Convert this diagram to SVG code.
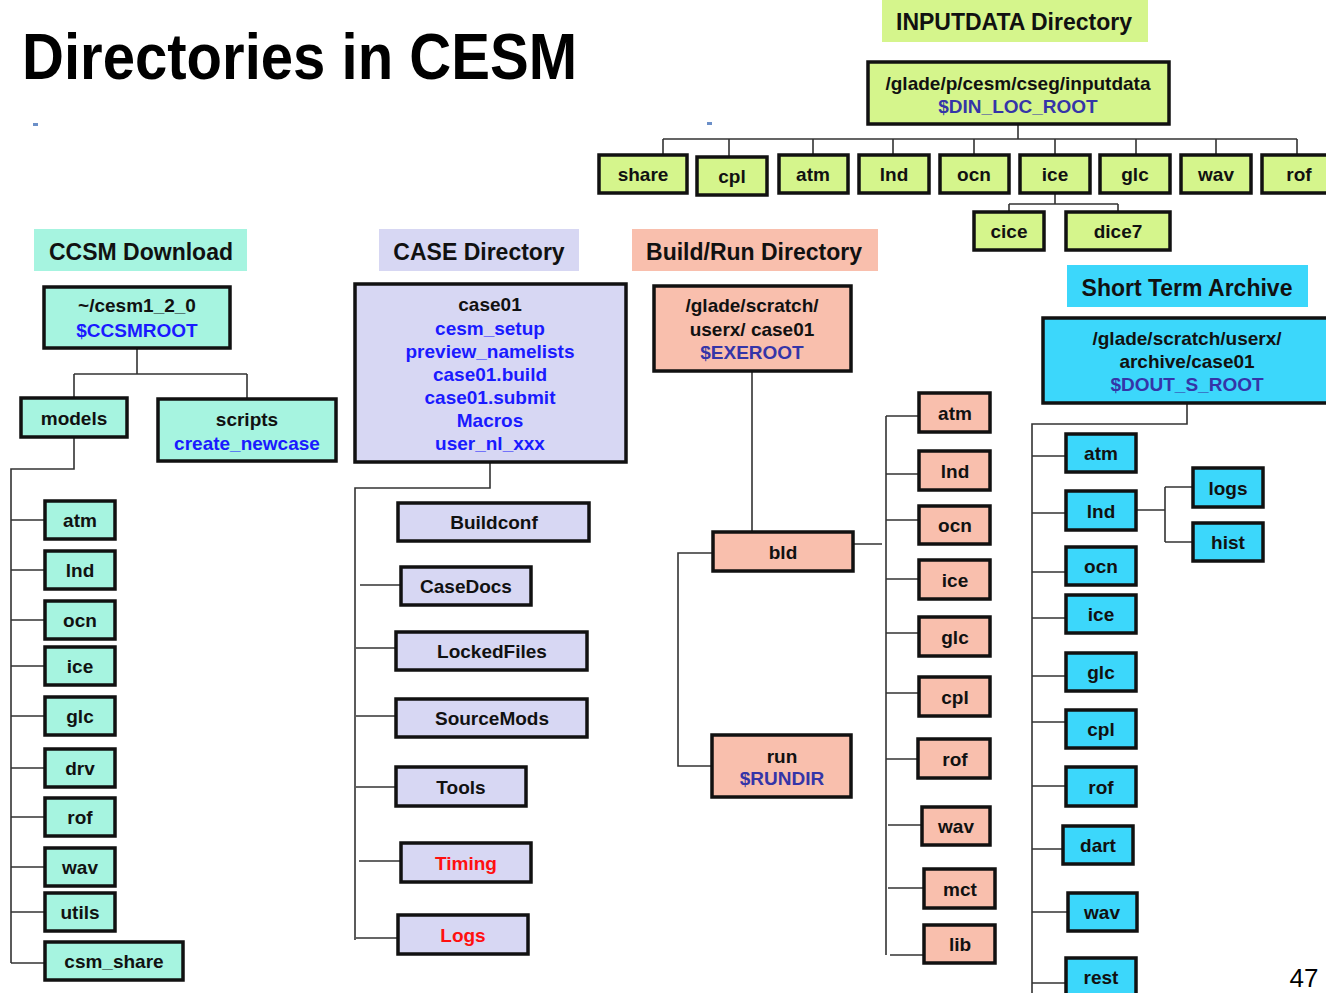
<svg xmlns="http://www.w3.org/2000/svg" width="1326" height="993" viewBox="0 0 1326 993">
<style>
text{font-family:"Liberation Sans",Arial,sans-serif;font-weight:bold;font-size:19px;text-anchor:middle;fill:#111}
.h{font-size:23px}
.bl{fill:#1a1aff}
.pu{fill:#3535a8}
.rd{fill:#ff1010}
rect.n{stroke:#111;stroke-width:3.5}
.g{fill:#d5f58c}
.m{fill:#a6f4e0}
.l{fill:#d7d7f3}
.s{fill:#f9bfad}
.c{fill:#3cd7fb}
#connectors path{fill:none;stroke:#333;stroke-width:1.6}
</style>
<rect width="1326" height="993" fill="#fff"/>
<text x="22" y="79" textLength="555" lengthAdjust="spacingAndGlyphs" style="font-size:64px;text-anchor:start;fill:#000">Directories in CESM</text>
<rect x="33" y="123" width="5" height="3" fill="#6b8fc8"/>
<rect x="707" y="122" width="5" height="3" fill="#6b8fc8"/>

<g id="connectors">
<path d="M1018 124V139M663 139H1297M663 139V155M729 139V157M813 139V155M893 139V155M974 139V155M1055 139V155M1136 139V155M1216 139V155M1297 139V155"/>
<path d="M1055 193V204M1009 204H1118M1009 204V212M1118 204V212"/>
<path d="M137 348V374M74 374H247M74 374V398M247 374V399"/>
<path d="M74 437V469H11V963M11 520H45M11 570H45M11 620H45M11 666H45M11 716H45M11 768H45M11 817H45M11 867H45M11 912H45M11 963H45"/>
<path d="M490 462V488H355V940M360 585H401M356 648H396M356 716H396M356 787H396M359 861H401M356 938H398"/>
<path d="M752 371V532M713 553H678V766H712M848 544H882M886 416V955M886 416H919M886 474H919M886 520H919M886 579H919M886 633H919M886 693H919M886 759H918M888 825H922M888 888H924M890 955H924"/>
<path d="M1187 403V424H1032V993M1032 456H1066M1032 513H1066M1032 572H1066M1032 618H1066M1032 676H1066M1032 722H1066M1032 786H1066M1032 849H1062M1032 912H1067M1032 983H1066"/>
<path d="M1136 510H1165M1165 487V542M1165 487H1193M1165 542H1193"/>
</g>

<g id="inputdata-label"><rect x="882" y="0" width="266" height="42" class="g"/><text class="h" x="1014" y="30">INPUTDATA Directory</text></g>
<g id="inputdata-root"><rect class="n g" x="868" y="62" width="301" height="62"/><text x="1018" y="90">/glade/p/cesm/cseg/inputdata</text><text class="pu" x="1018" y="113">$DIN_LOC_ROOT</text></g>
<g id="in-share"><rect class="n g" x="599" y="155" width="88" height="38"/><text x="643" y="181">share</text></g>
<g id="in-cpl"><rect class="n g" x="697" y="157" width="70" height="38"/><text x="732" y="183">cpl</text></g>
<g id="in-atm"><rect class="n g" x="779" y="155" width="69" height="38"/><text x="813" y="181">atm</text></g>
<g id="in-lnd"><rect class="n g" x="859" y="155" width="70" height="38"/><text x="894" y="181">lnd</text></g>
<g id="in-ocn"><rect class="n g" x="940" y="155" width="69" height="38"/><text x="974" y="181">ocn</text></g>
<g id="in-ice"><rect class="n g" x="1020" y="155" width="70" height="38"/><text x="1055" y="181">ice</text></g>
<g id="in-glc"><rect class="n g" x="1100" y="155" width="70" height="38"/><text x="1135" y="181">glc</text></g>
<g id="in-wav"><rect class="n g" x="1181" y="155" width="70" height="38"/><text x="1216" y="181">wav</text></g>
<g id="in-rof"><rect class="n g" x="1262" y="155" width="70" height="38"/><text x="1299" y="181">rof</text></g>
<g id="in-cice"><rect class="n g" x="974" y="212" width="70" height="38"/><text x="1009" y="238">cice</text></g>
<g id="in-dice7"><rect class="n g" x="1066" y="212" width="104" height="38"/><text x="1118" y="238">dice7</text></g>

<g id="ccsm-label"><rect x="34" y="229" width="213" height="42" class="m"/><text class="h" x="141" y="260">CCSM Download</text></g>
<g id="ccsm-root"><rect class="n m" x="44" y="287" width="186" height="61"/><text x="137" y="312">~/cesm1_2_0</text><text class="bl" x="137" y="337">$CCSMROOT</text></g>
<g id="ccsm-models"><rect class="n m" x="21" y="398" width="106" height="39"/><text x="74" y="425">models</text></g>
<g id="ccsm-scripts"><rect class="n m" x="158" y="399" width="178" height="62"/><text x="247" y="426">scripts</text><text class="bl" x="247" y="450">create_newcase</text></g>
<g id="cc-atm"><rect class="n m" x="45" y="501" width="70" height="38"/><text x="80" y="527">atm</text></g>
<g id="cc-lnd"><rect class="n m" x="45" y="551" width="70" height="38"/><text x="80" y="577">lnd</text></g>
<g id="cc-ocn"><rect class="n m" x="45" y="601" width="70" height="38"/><text x="80" y="627">ocn</text></g>
<g id="cc-ice"><rect class="n m" x="45" y="647" width="70" height="38"/><text x="80" y="673">ice</text></g>
<g id="cc-glc"><rect class="n m" x="45" y="697" width="70" height="38"/><text x="80" y="723">glc</text></g>
<g id="cc-drv"><rect class="n m" x="45" y="749" width="70" height="38"/><text x="80" y="775">drv</text></g>
<g id="cc-rof"><rect class="n m" x="45" y="798" width="70" height="38"/><text x="80" y="824">rof</text></g>
<g id="cc-wav"><rect class="n m" x="45" y="848" width="70" height="38"/><text x="80" y="874">wav</text></g>
<g id="cc-utils"><rect class="n m" x="45" y="893" width="70" height="38"/><text x="80" y="919">utils</text></g>
<g id="cc-csm_share"><rect class="n m" x="45" y="942" width="138" height="38"/><text x="114" y="968">csm_share</text></g>

<g id="case-label"><rect x="379" y="229" width="200" height="42" class="l"/><text class="h" x="479" y="260">CASE Directory</text></g>
<g id="case-root"><rect class="n l" x="355" y="284" width="271" height="178"/>
<text x="490" y="311">case01</text>
<text class="bl" x="490" y="335">cesm_setup</text>
<text class="bl" x="490" y="358">preview_namelists</text>
<text class="bl" x="490" y="381">case01.build</text>
<text class="bl" x="490" y="404">case01.submit</text>
<text class="bl" x="490" y="427">Macros</text>
<text class="bl" x="490" y="450">user_nl_xxx</text></g>
<g id="case-Buildconf"><rect class="n l" x="398" y="503" width="191" height="38"/><text x="494" y="529">Buildconf</text></g>
<g id="case-CaseDocs"><rect class="n l" x="401" y="567" width="130" height="38"/><text x="466" y="593">CaseDocs</text></g>
<g id="case-LockedFiles"><rect class="n l" x="396" y="632" width="191" height="38"/><text x="492" y="658">LockedFiles</text></g>
<g id="case-SourceMods"><rect class="n l" x="396" y="699" width="191" height="38"/><text x="492" y="725">SourceMods</text></g>
<g id="case-Tools"><rect class="n l" x="396" y="767" width="130" height="39"/><text x="461" y="794">Tools</text></g>
<g id="case-Timing"><rect class="n l" x="401" y="843" width="130" height="39"/><text class="rd" x="466" y="870">Timing</text></g>
<g id="case-Logs"><rect class="n l" x="398" y="915" width="130" height="39"/><text class="rd" x="463" y="942">Logs</text></g>

<g id="build-label"><rect x="632" y="229" width="246" height="42" class="s"/><text class="h" x="754" y="260">Build/Run Directory</text></g>
<g id="build-root"><rect class="n s" x="654" y="286" width="197" height="85"/><text x="752" y="312">/glade/scratch/</text><text x="752" y="336">userx/ case01</text><text class="pu" x="752" y="359">$EXEROOT</text></g>
<g id="build-bld"><rect class="n s" x="713" y="532" width="140" height="39"/><text x="783" y="559">bld</text></g>
<g id="build-run"><rect class="n s" x="712" y="735" width="139" height="62"/><text x="782" y="763">run</text><text class="pu" x="782" y="785">$RUNDIR</text></g>
<g id="b-atm"><rect class="n s" x="919" y="393" width="71" height="39"/><text x="955" y="420">atm</text></g>
<g id="b-lnd"><rect class="n s" x="919" y="451" width="71" height="39"/><text x="955" y="478">lnd</text></g>
<g id="b-ocn"><rect class="n s" x="919" y="506" width="71" height="38"/><text x="955" y="532">ocn</text></g>
<g id="b-ice"><rect class="n s" x="919" y="560" width="71" height="39"/><text x="955" y="587">ice</text></g>
<g id="b-glc"><rect class="n s" x="919" y="617" width="71" height="39"/><text x="955" y="644">glc</text></g>
<g id="b-cpl"><rect class="n s" x="919" y="677" width="71" height="39"/><text x="955" y="704">cpl</text></g>
<g id="b-rof"><rect class="n s" x="918" y="739" width="72" height="39"/><text x="955" y="766">rof</text></g>
<g id="b-wav"><rect class="n s" x="922" y="807" width="68" height="38"/><text x="956" y="833">wav</text></g>
<g id="b-mct"><rect class="n s" x="924" y="869" width="71" height="39"/><text x="960" y="896">mct</text></g>
<g id="b-lib"><rect class="n s" x="924" y="925" width="71" height="38"/><text x="960" y="951">lib</text></g>

<g id="archive-label"><rect x="1067" y="265" width="241" height="42" class="c"/><text class="h" x="1187" y="296">Short Term Archive</text></g>
<g id="archive-root"><rect class="n c" x="1043" y="318" width="295" height="85"/><text x="1187" y="345">/glade/scratch/userx/</text><text x="1187" y="368">archive/case01</text><text class="pu" x="1187" y="391">$DOUT_S_ROOT</text></g>
<g id="a-atm"><rect class="n c" x="1066" y="434" width="70" height="38"/><text x="1101" y="460">atm</text></g>
<g id="a-lnd"><rect class="n c" x="1066" y="491" width="70" height="39"/><text x="1101" y="518">lnd</text></g>
<g id="a-ocn"><rect class="n c" x="1066" y="547" width="70" height="38"/><text x="1101" y="573">ocn</text></g>
<g id="a-ice"><rect class="n c" x="1066" y="595" width="70" height="38"/><text x="1101" y="621">ice</text></g>
<g id="a-glc"><rect class="n c" x="1066" y="653" width="70" height="38"/><text x="1101" y="679">glc</text></g>
<g id="a-cpl"><rect class="n c" x="1066" y="710" width="70" height="38"/><text x="1101" y="736">cpl</text></g>
<g id="a-rof"><rect class="n c" x="1066" y="767" width="70" height="39"/><text x="1101" y="794">rof</text></g>
<g id="a-dart"><rect class="n c" x="1063" y="826" width="70" height="38"/><text x="1098" y="852">dart</text></g>
<g id="a-wav"><rect class="n c" x="1068" y="893" width="69" height="38"/><text x="1102" y="919">wav</text></g>
<g id="a-rest"><rect class="n c" x="1066" y="958" width="70" height="38"/><text x="1101" y="984">rest</text></g>
<g id="a-logs"><rect class="n c" x="1193" y="468" width="70" height="39"/><text x="1228" y="495">logs</text></g>
<g id="a-hist"><rect class="n c" x="1193" y="523" width="70" height="38"/><text x="1228" y="549">hist</text></g>

<text x="1304" y="987" style="font-weight:normal;font-size:26px;fill:#000">47</text>
</svg>
